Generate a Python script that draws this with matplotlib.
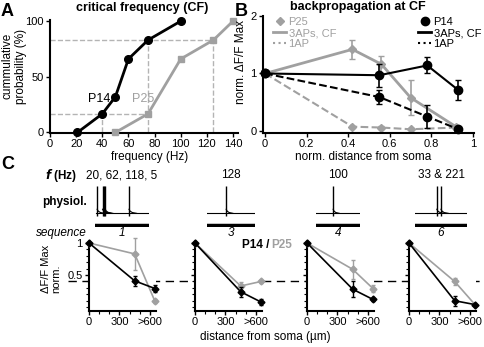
import matplotlib.pyplot as plt
import matplotlib.transforms as mtransforms
from matplotlib.lines import Line2D
import numpy as np

plt.rcParams['font.family'] = ['Liberation Sans', 'DejaVu Sans']
plt.rcParams['font.size'] = 8

GRAY = '#a0a0a0'
LGRAY = '#b4b4b4'
W, H = 484, 347

# --- A: critical frequency (cumulative probability) ---
p14_freq = [21, 40, 50, 60, 75, 100]
p14_cum = [0, 16.7, 32, 66, 83, 100]
p25_freq = [50, 75, 100, 125, 140]
p25_cum = [0, 16.7, 66, 83, 100]

# --- B: backpropagation at CF ---
p14_dist = [0, 0.55, 0.78, 0.93]
p14_3ap = [1, 0.97, 1.14, 0.71]
p14_3ap_err = [0, 0.2, 0.14, 0.17]
p14_1ap = [1, 0.59, 0.25, 0.03]
p14_1ap_err = [0, 0.12, 0.2, 0.0]
p25_dist = [0, 0.42, 0.56, 0.70, 0.92]
p25_3ap = [1, 1.42, 1.16, 0.58, 0.07]
p25_3ap_err = [0, 0.17, 0.15, 0.3, 0.03]
p25_1ap = [1, 0.075, 0.06, 0.03, 0.06]
p25_1ap_err = [0, 0.02, 0.02, 0.02, 0.02]

# --- C: sequences ---
seq_names = ["1", "3", "4", "6"]
seq_freqs = ["20, 62, 118, 5", "128", "100", "33 & 221"]
seq_spikes = [[4, 14, 16, 19, 63], [40], [39], [42, 50]]
c_dist = [0, 450, 650]
c_p14 = [[1, 0.41, 0.29], [1, 0.24, 0.08], [1, 0.28, 0.12], [1, 0.10, 0.04]]
c_p14_err = [[0, 0.08, 0.05], [0, 0.08, 0.04], [0, 0.12, 0.03], [0, 0.08, 0.0]]
c_p25 = [[1, 0.83, 0.09], [1, 0.33, 0.40], [1, 0.59, 0.29], [1, 0.40, 0.04]]
c_p25_err = [[0, 0.25, 0.03], [0, 0.06, 0.03], [0, 0.15, 0.05], [0, 0.05, 0.02]]
threshold = 0.4

fig = plt.figure(figsize=(W / 100, H / 100), dpi=100)


def px_axes(left, top, right, bottom):
    return fig.add_axes([left / W, 1 - bottom / H, (right - left) / W, (bottom - top) / H])


def ftext(x, y, s, **kw):
    kw.setdefault('ha', 'center')
    kw.setdefault('va', 'center')
    return fig.text(x / W, 1 - y / H, s, **kw)


def style(ax, lw=1.5):
    for side in ['top', 'right']:
        ax.spines[side].set_visible(False)
    for side in ['left', 'bottom']:
        ax.spines[side].set_linewidth(lw)
    ax.tick_params(direction='out', length=3, width=1, pad=1.5, labelsize=8)


# panel A
axA = px_axes(50, 20, 238, 133)
style(axA)
# dashed guides at the 1/6 and 5/6 quantiles
q_lo, q_hi = p14_cum[1], p14_cum[4]
axA.plot([0, p25_freq[1]], [q_lo, q_lo], '--', color=LGRAY, lw=1)
axA.plot([p14_freq[1], p14_freq[1]], [0, q_lo], '--', color=LGRAY, lw=1)
axA.plot([p25_freq[1], p25_freq[1]], [0, q_hi], '--', color=LGRAY, lw=1)
axA.plot([0, p25_freq[3]], [q_hi, q_hi], '--', color=LGRAY, lw=1)
axA.plot([p25_freq[3], p25_freq[3]], [0, q_hi], '--', color=LGRAY, lw=1)
axA.plot(p14_freq, p14_cum, '-o', color='k', lw=2, ms=5.5, clip_on=False, zorder=4)
axA.plot(p25_freq, p25_cum, '-s', color=GRAY, lw=2, ms=5, clip_on=False, zorder=3)
axA.set_xlim(0, 143.8)
axA.set_ylim(-0.5, 101)
axA.set_xticks(range(0, 141, 20))
axA.set_yticks([0, 50, 100])
axA.text(38, 30, "P14", fontsize=9, ha='center', va='center')
axA.text(71, 30, "P25", fontsize=9, ha='center', va='center', color=GRAY)
ftext(142, 8, "critical frequency (CF)", fontsize=9, fontweight='bold')
ftext(150, 157, "frequency (Hz)", fontsize=8.5)
ftext(14, 66, "cummulative\nprobability (%)", fontsize=8.5, rotation=90, multialignment='center')

# panel B
axB = px_axes(263, 16, 474, 133)
style(axB)
axB.errorbar(p25_dist, p25_1ap, yerr=p25_1ap_err, fmt='D', ls='--', color=GRAY, lw=1.5,
             ms=4.5, capsize=2, elinewidth=1.2, clip_on=False, zorder=2)
axB.errorbar(p25_dist, p25_3ap, yerr=p25_3ap_err, fmt='D', ls='-', color=GRAY, lw=2,
             ms=4.5, capsize=2, elinewidth=1.2, clip_on=False, zorder=3)
axB.errorbar(p14_dist, p14_1ap, yerr=p14_1ap_err, fmt='o', ls='--', color='k', lw=1.5,
             ms=6, capsize=2, elinewidth=1.2, clip_on=False, zorder=4)
axB.errorbar(p14_dist, p14_3ap, yerr=p14_3ap_err, fmt='o', ls='-', color='k', lw=1.5,
             ms=6, capsize=2, elinewidth=1.2, clip_on=False, zorder=5)
axB.set_xlim(-0.01, 1.005)
axB.set_ylim(-0.035, 2)
axB.set_xticks([0, 0.2, 0.4, 0.6, 0.8, 1])
axB.set_xticklabels(["0", "0.2", "0.4", "0.6", "0.8", "1"])
axB.set_yticks([0, 1, 2])
ftext(358, 7, "backpropagation at CF", fontsize=9, fontweight='bold')
ftext(363, 157, "norm. distance from soma", fontsize=8.5)
ftext(241, 62, "norm. \u0394F/F Max", fontsize=8.5, rotation=90)

h25 = [Line2D([], [], color=GRAY, marker='D', ls='none', ms=4.5),
       Line2D([], [], color=GRAY, lw=2),
       Line2D([], [], color=GRAY, lw=1.5, ls=':')]
h14 = [Line2D([], [], color='k', marker='o', ls='none', ms=6),
       Line2D([], [], color='k', lw=2),
       Line2D([], [], color='k', lw=1.5, ls=':')]
leg_kw = dict(frameon=False, fontsize=8, handlelength=1.2, handletextpad=0.2,
              labelspacing=0.1, borderpad=0, borderaxespad=0)
leg1 = axB.legend(h25, ["P25", "3APs, CF", "1AP"], loc='upper left',
                  bbox_to_anchor=(273 / W, 1 - 17 / H), bbox_transform=fig.transFigure,
                  labelcolor=GRAY, **leg_kw)
axB.add_artist(leg1)
axB.legend(h14, ["P14", "3APs, CF", "1AP"], loc='upper left',
           bbox_to_anchor=(418 / W, 1 - 17 / H), bbox_transform=fig.transFigure, **leg_kw)

# panel labels
ftext(7, 12, "A", fontsize=13, fontweight='bold')
ftext(241, 12, "B", fontsize=13, fontweight='bold')
ftext(8, 164, "C", fontsize=13, fontweight='bold')

# panel C: traces
trace_lefts = [95, 207, 316, 415]
trace_rights = [149, 255, 360, 467]
ftext(77, 175, r"$\mathbfit{f}$ (Hz)", fontsize=8.5, fontweight='bold', ha='right')
ftext(87, 202, "physiol.", fontsize=8.5, fontweight='bold', ha='right')
ftext(87, 233, "sequence", fontsize=8.5, style='italic', ha='right')
for left, right, spikes, name, freq in zip(trace_lefts, trace_rights, seq_spikes, seq_names, seq_freqs):
    axt = px_axes(left, 186, right, 227)
    axt.axis('off')
    axt.set_xlim(0, 100)
    axt.set_ylim(-0.5, 1.0)
    axt.plot([spikes[0] - 3 if name == "1" else 0, 100], [0, 0], color='k', lw=0.8)
    axt.vlines(spikes, -0.1, 1.0, color='k', lw=1.0)
    for s in spikes:
        axt.plot([s, s + 2, s + 6, s + 14], [0.15, 0.08, 0.03, 0], color='k', lw=0.8)
    axt.axhline(-0.43, color='k', lw=2.5)
    axt.text(0.5, -0.15, name, transform=axt.transAxes, ha='center', va='center',
             fontsize=8.5, style='italic')
    ftext((left + right) / 2, 175, freq, fontsize=8.5)

# panel C: distance plots
c_lefts = [89, 195, 307, 409]
axesC = []
for i, left in enumerate(c_lefts):
    ax = px_axes(left, 243, left + 67, 311)
    style(ax)
    ax.tick_params(which='minor', direction='out', length=2, width=0.8)
    ax.errorbar(c_dist, c_p25[i], yerr=c_p25_err[i], fmt='-D', color=GRAY, lw=1.2, ms=3.5,
                capsize=1.5, elinewidth=1, clip_on=False, zorder=3)
    ax.errorbar(c_dist, c_p14[i], yerr=c_p14_err[i], fmt='-D', color='k', lw=1.2, ms=3.5,
                capsize=1.5, elinewidth=1, clip_on=False, zorder=4)
    ax.set_xlim(0, 660)
    ax.set_ylim(-0.06, 1.0)
    ax.set_xticks([0, 300, 600])
    ax.set_xticklabels(["0", "300", ">600"])
    ax.set_xticks([100, 200, 400, 500], minor=True)
    ax.set_yticks([0.5, 1])
    ax.set_yticks(np.arange(0, 1.0, 0.1), minor=True)
    if i == 0:
        ax.set_yticklabels(["0.5", "1"])
    else:
        ax.set_yticklabels([])
    axesC.append(ax)

trans = mtransforms.blended_transform_factory(fig.transFigure, axesC[0].transData)
fig.add_artist(Line2D([68 / W, 1.0], [threshold, threshold], transform=trans,
                      color='k', lw=1, ls=(0, (6, 4)), zorder=0))

ftext(46, 293, "\u0394F/F Max", fontsize=8, rotation=90, va='bottom')
ftext(56, 293, "norm.", fontsize=8, rotation=90, va='bottom')
ftext(269, 245, "P14 /", fontsize=8.5, fontweight='bold', ha='right')
ftext(271, 245, "P25", fontsize=8.5, fontweight='bold', ha='left', color=GRAY)
ftext(265, 337, "distance from soma (\u00b5m)", fontsize=8.5)

fig.savefig("out.png", dpi=100)
